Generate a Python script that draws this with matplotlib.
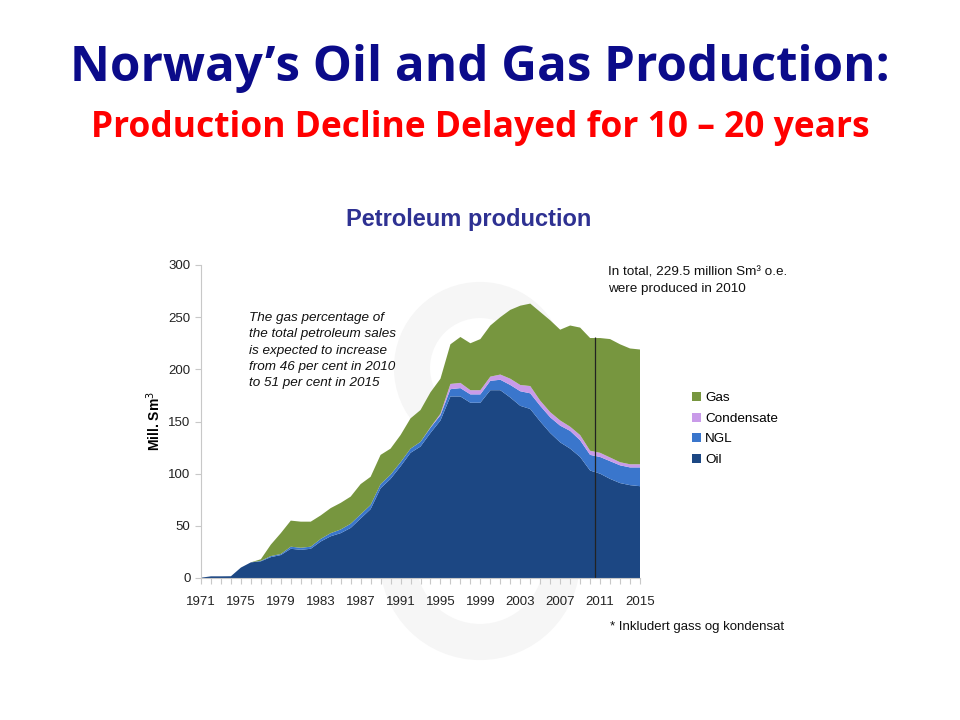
import numpy as np
import matplotlib.pyplot as plt
from matplotlib.patches import Circle

years = list(range(1971, 2016))

oil = [0.3, 1.6, 1.6, 1.7, 10, 15, 16, 20, 22, 28,
       27, 28, 35, 40, 43, 48, 57, 66, 86, 95,
       107, 120, 126, 139, 151, 174, 174, 168, 168, 180,
       180, 173, 165, 162, 150, 139, 130, 124, 116, 103,
       100, 95, 91, 89, 88]
ngl = [0, 0, 0, 0, 0, 0, 0.5, 1, 1, 2,
       2, 2, 2.5, 3, 3.5, 4, 4, 4, 4, 4,
       4, 4, 4.5, 5, 5, 7, 8, 8, 8, 9,
       10, 12, 14, 15, 15, 15, 16, 17, 16, 15,
       16, 17, 17, 17, 18]
condensate = [0, 0, 0, 0, 0, 0, 0, 0, 0, 0,
              0, 0, 0, 0, 0, 0, 0, 0, 0, 0,
              0, 0, 0, 0.5, 1.5, 5, 5, 4, 4, 4,
              5, 6, 6, 7, 5, 5, 5, 4, 5, 4,
              4, 3.5, 3, 3, 3]
gas = [0, 0, 0, 0, 0, 0, 1.5, 11, 20, 25,
       25, 24, 22.5, 24, 25.5, 26, 29, 27, 28, 25,
       26, 29, 30.5, 33.5, 33.5, 38, 44, 45, 49, 49,
       55, 66, 76, 79, 85, 88, 87, 97, 103, 108,
       110, 113.5, 113, 111, 110]

series_names = ['Oil', 'NGL', 'Condensate', 'Gas']
colors = ['#1C4783', '#3A76CC', '#C99BE9', '#77963F']

fig = plt.figure(figsize=(9.6, 7.2), dpi=100)
fig.patch.set_facecolor('white')

# faint watermark behind the chart
bg = fig.add_axes([0, 0, 1, 1], zorder=-1)
bg.set_xlim(0, 960)
bg.set_ylim(720, 0)
bg.axis('off')
for cx, cy, r in [(480, 368, 68), (480, 560, 82)]:
    bg.add_patch(Circle((cx, cy), r, facecolor='none', edgecolor='#F6F6F6', linewidth=26))

title_fonts = ['Liberation Sans Narrow', 'Open Sans', 'DejaVu Sans']
fig.text(0.5, 0.905, 'Norway\u2019s Oil and Gas Production:', ha='center', va='center',
         fontsize=35.5, fontweight='bold', color='#0B0B8A', family=title_fonts)
fig.text(0.5, 0.822, 'Production Decline Delayed for 10 \u2013 20 years', ha='center', va='center',
         fontsize=25.5, fontweight='bold', color='#FF0000', family=title_fonts)
fig.text(0.488, 0.695, 'Petroleum production', ha='center', va='center',
         fontsize=17, fontweight='bold', color='#2E3192', family='Liberation Sans')

ax = fig.add_axes([201/960, 142/720, 439/960, 313/720])
ax.patch.set_alpha(0)
ax.stackplot(years, oil, ngl, condensate, gas, labels=series_names, colors=colors,
             linewidth=0)
ax.vlines(2010.5, 0, 231, color='#222222', linewidth=0.9)

ax.set_xlim(1971, 2015)
ax.set_ylim(0, 300)
ax.set_yticks(range(0, 301, 50))
ax.set_xticks(range(1971, 2016, 4))
ax.set_xticks(years, minor=True)
for s in ['top', 'right']:
    ax.spines[s].set_visible(False)
for s in ['left', 'bottom']:
    ax.spines[s].set_color('#C8C8C8')
ax.tick_params(axis='both', colors='#C8C8C8', labelcolor='#222222', labelsize=9.5,
               length=4, width=0.8)
ax.tick_params(axis='x', which='minor', colors='#C8C8C8', length=4, width=0.8)
ax.tick_params(axis='x', pad=9)
for lab in ax.get_xticklabels() + ax.get_yticklabels():
    lab.set_family('Liberation Sans')
ax.set_ylabel('Mill. Sm$^3$', fontsize=10, fontweight='bold', family='Liberation Sans',
              labelpad=4)

ax.text(1975.8, 255, 'The gas percentage of\nthe total petroleum sales\nis expected to increase\n'
        'from 46 per cent in 2010\nto 51 per cent in 2015',
        fontsize=9.7, style='italic', va='top', ha='left', family='Liberation Sans',
        linespacing=1.48, color='#111111')
ax.text(2011.8, 299, 'In total, 229.5 million Sm\u00b3 o.e.\nwere produced in 2010',
        fontsize=9.7, va='top', ha='left', family='Liberation Sans', linespacing=1.6,
        color='#111111', clip_on=False)

handles, labels = ax.get_legend_handles_labels()
leg = ax.legend(handles[::-1], labels[::-1], loc='center left', bbox_to_anchor=(1.09, 0.476),
                frameon=False, handlelength=0.7, handleheight=0.7,
                handletextpad=0.3, labelspacing=0.6,
                prop={'family': 'Liberation Sans', 'size': 9.7})

fig.text(0.635, 0.129, '* Inkludert gass og kondensat', fontsize=9.5, family='Liberation Sans',
         ha='left', va='center', color='#111111')

fig.savefig('out.png', dpi=100, facecolor='white')
